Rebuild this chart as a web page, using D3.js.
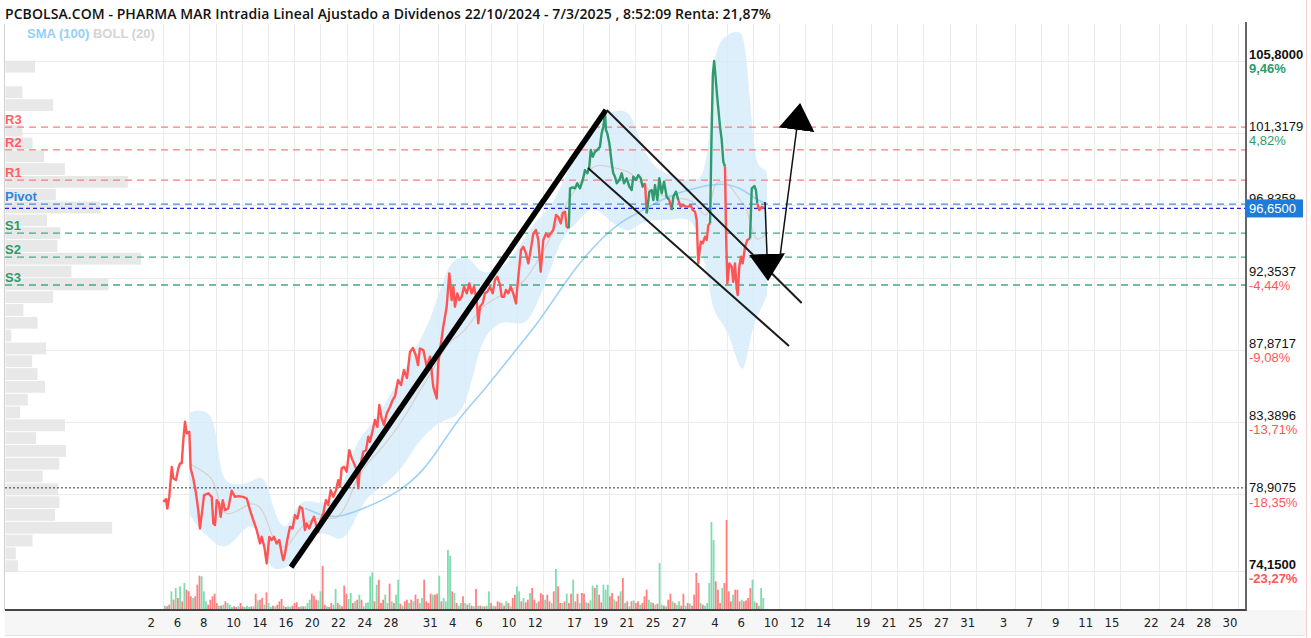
<!DOCTYPE html>
<html>
<head>
<meta charset="utf-8">
<script src="https://cdn.jsdelivr.net/npm/d3@7"></script>
<style>
  html, body { margin: 0; padding: 0; background: #fff; }
  svg { display: block; }
</style>
</head>
<body>
<div id="chart"></div>
<script>
// ---- datos ----
const titleText = "PCBOLSA.COM - PHARMA MAR Intradia Lineal Ajustado a Dividenos 22/10/2024 - 7/3/2025 , 8:52:09 Renta: 21,87%";

// eje x: sesiones bursatiles (indice de sesion desde el 2 de enero) y su etiqueta
const xTickIdx = [0, 2, 4, 6, 8, 10, 12, 14, 16, 18, 21, 23, 25, 27, 29, 32, 34, 36, 38, 40,
  43, 45, 47, 49, 51, 54, 56, 58, 60, 62, 65, 67, 69, 71, 73, 76, 78, 80, 82];
const xTickLabels = ["2", "6", "8", "10", "14", "16", "20", "22", "24", "28", "31", "4", "6", "10", "12", "17", "19", "21", "25", "27",
  "4", "6", "10", "12", "14", "19", "21", "25", "27", "31", "3", "7", "9", "11", "15", "22", "24", "28", "30"];

// eje y (precio)
const yTicks = [105.8, 101.3179, 96.8358, 92.3537, 87.8717, 83.3896, 78.9075, 74.15];
const yTickPct = ["9,46%", "4,82%", "", "-4,44%", "-9,08%", "-13,71%", "-18,35%", "-23,27%"];

// puntos pivote
const pivotNames = ["R3", "R2", "R1", "Pivot", "S1", "S2", "S3"];
const pivotValues = [101.70, 100.28, 98.41, 96.92, 95.12, 93.63, 91.90];
const lastPrice = 96.65;
const startPrice = 79.31;

// cotizacion intradia: [sesion, precio]
const pricePts = [
  [1.01,78.44],[1.22,78.61],[1.32,78.03],[1.47,78.75],[1.66,80.61],[1.78,79.90],[1.98,79.79],[2.16,80.52],[2.29,80.83],[2.42,80.83],
  [2.54,82.27],[2.67,83.41],[2.80,82.69],[3.00,82.79],[3.10,80.52],[3.30,79.90],[3.51,78.97],[3.68,77.93],[3.81,76.79],[4.02,78.14],
  [4.12,78.86],[4.45,78.97],[4.71,78.75],[4.83,77.10],[4.96,77.00],[5.09,78.55],[5.26,78.34],[5.39,77.51],[5.55,78.55],[5.72,77.93],
  [5.97,78.03],[6.23,79.13],[6.48,78.75],[6.74,78.80],[7.12,78.75],[7.38,78.65],[7.63,77.93],[7.88,77.31],[8.14,76.69],[8.39,75.86],
  [8.52,76.27],[8.72,75.65],[8.90,74.62],[9.10,76.27],[9.28,76.07],[9.46,76.27],[9.66,75.86],[9.86,76.07],[10.05,75.24],[10.17,74.82],
  [10.30,75.24],[10.47,76.07],[10.68,76.89],[10.88,76.79],[11.06,77.62],[11.24,77.41],[11.44,78.14],[11.62,78.03],[11.82,76.69],[11.95,77.10],
  [12.15,76.79],[12.33,77.20],[12.51,77.51],[12.66,77.06],[12.84,76.58],[13.02,77.31],[13.22,77.72],[13.42,78.55],[13.60,78.24],[13.78,79.17],
  [13.98,78.75],[14.19,79.17],[14.36,79.79],[14.49,79.38],[14.62,80.52],[14.80,80.62],[15.00,80.31],[15.20,81.65],[15.39,81.14],[15.56,80.83],
  [15.77,80.41],[15.89,79.28],[16.02,80.62],[16.27,81.55],[16.48,81.65],[16.65,82.48],[16.78,82.17],[16.99,82.89],[17.16,83.52],[17.34,83.10],
  [17.49,84.45],[17.67,83.62],[17.85,83.21],[18.06,83.93],[18.31,84.34],[18.51,84.76],[18.69,85.00],[18.92,86.00],[19.15,85.69],[19.37,86.62],
  [19.60,86.12],[19.83,87.74],[20.06,87.99],[20.29,87.49],[20.44,86.93],[20.59,87.96],[20.85,87.86],[21.11,86.82],[21.36,87.45],[21.61,85.58],
  [21.87,84.86],[21.99,87.03],[22.12,87.86],[22.37,89.31],[22.63,90.55],[22.83,92.62],[23.01,90.96],[23.14,91.79],[23.26,90.55],[23.44,91.38],
  [23.59,90.96],[23.78,91.17],[23.95,91.79],[24.16,91.38],[24.36,92.00],[24.54,91.38],[24.71,91.79],[24.92,90.96],[25.04,89.52],[25.17,90.55],
  [25.38,90.76],[25.55,91.38],[25.73,91.48],[25.93,91.79],[26.14,91.38],[26.32,92.21],[26.49,92.41],[26.70,91.90],[26.83,91.17],[27.00,91.17],
  [27.15,91.59],[27.33,91.38],[27.51,91.79],[27.71,91.38],[27.92,90.76],[28.02,91.79],[28.17,93.03],[28.30,94.07],[28.47,94.27],[28.68,93.86],
  [28.86,93.24],[29.04,94.07],[29.24,95.10],[29.44,95.31],[29.62,94.69],[29.80,92.72],[30.00,94.69],[30.21,95.10],[30.38,94.89],[30.56,95.10],
  [30.76,95.31],[30.97,96.24],[31.14,96.13],[31.33,95.72],[31.48,96.35],[31.66,96.45],[31.78,95.52],[31.94,95.42],[32.04,97.90],[32.24,97.96],
  [32.42,97.90],[32.59,98.21],[32.80,97.90],[33.01,98.41],[33.18,99.03],[33.36,98.83],[33.51,99.24],[33.62,100.28],[33.77,99.86],[33.94,100.17],
  [34.12,100.28],[34.32,100.48],[34.45,101.31],[34.58,101.72],[34.71,102.55],[34.78,101.52],[34.88,101.31],[35.04,100.69],[35.22,99.45],[35.34,98.83],
  [35.47,98.62],[35.60,98.21],[35.80,98.41],[35.98,98.83],[36.16,98.21],[36.36,98.52],[36.56,98.00],[36.74,97.79],[36.86,98.62],[37.07,98.41],
  [37.25,98.72],[37.43,98.52],[37.58,98.00],[37.76,98.21],[37.89,96.35],[38.09,97.69],[38.27,97.79],[38.39,97.17],[38.52,98.10],[38.70,97.17],
  [38.85,98.52],[39.03,97.59],[39.21,98.31],[39.41,97.38],[39.61,97.17],[39.79,96.55],[39.92,97.38],[40.12,97.69],[40.30,97.17],[40.48,96.76],
  [40.68,96.86],[40.88,96.76],[41.06,96.76],[41.24,96.86],[41.40,96.55],[41.57,96.45],[41.70,95.93],[41.82,93.24],[42.01,94.59],[42.16,94.49],
  [42.33,94.89],[42.46,94.69],[42.59,95.62],[42.72,95.72],[42.82,100.48],[42.93,104.93],[43.03,105.80],[43.13,104.93],[43.25,103.69],[43.36,102.76],
  [43.48,101.72],[43.61,100.89],[43.73,99.55],[43.86,99.24],[43.94,95.10],[44.04,92.00],[44.19,93.24],[44.37,93.03],[44.49,92.09],[44.62,93.24],
  [44.75,91.68],[44.83,91.28],[44.95,93.03],[45.08,93.65],[45.21,93.24],[45.39,94.27],[45.56,94.69],[45.77,94.79],[45.90,97.90],[46.10,98.04],
  [46.22,97.79],[46.32,96.97],[46.48,96.55],[46.67,96.76],[46.84,96.65]
];

// Bandas de Bollinger (20)
const bandTime = [3.05, 3.81, 4.73, 5.11, 5.42, 5.87, 6.64, 7.63, 8.24, 8.77, 9.15, 9.69, 10.45, 11.21, 11.98, 12.74, 13.50, 14.26, 15.03, 15.79,
  16.55, 17.32, 18.31, 19.07, 19.83, 20.59, 21.36, 22.12, 22.88, 23.65, 24.41, 25.17, 25.93, 26.93, 28.22, 28.99, 29.98, 30.74, 31.50, 32.57,
  33.33, 34.10, 35.32, 36.61, 37.15, 37.76, 38.37, 39.89, 40.96, 41.72, 42.18, 42.72, 42.94, 43.48, 44.24, 45.00, 45.38, 45.77, 46.15, 46.76, 47.06];
const bandUpper = [84.01, 84.14, 83.95, 82.27, 80.23, 79.61, 79.48, 79.61, 79.98, 79.92, 78.86, 77.31, 76.56, 78.36, 78.55, 78.36, 78.42, 78.55, 80.23, 82.27,
  82.89, 83.70, 85.07, 86.12, 87.24, 88.48, 89.72, 91.59, 93.32, 93.63, 93.63, 92.64, 92.70, 92.95, 94.25, 95.50, 96.24, 96.99, 98.23, 100.28,
  101.33, 102.14, 102.76, 102.76, 101.33, 100.15, 99.22, 98.60, 98.41, 98.41, 98.60, 100.90, 105.86, 107.10, 107.54, 107.72, 107.10, 103.38, 99.34, 99.16, 98.91];
const bandLower = [77.62, 76.69, 76.07, 75.76, 75.70, 75.63, 76.19, 77.19, 76.56, 75.45, 74.39, 74.20, 74.39, 74.83, 75.94, 76.50, 76.50, 76.07, 76.25, 77.62,
  78.73, 79.17, 79.79, 80.41, 81.34, 82.27, 82.89, 83.39, 83.64, 83.83, 85.38, 88.17, 89.10, 89.72, 89.41, 89.72, 91.59, 93.32, 95.00, 95.74,
  96.55, 96.74, 95.62, 95.12, 95.62, 95.81, 95.93, 95.93, 96.12, 95.43, 93.76, 91.59, 90.34, 89.72, 88.79, 86.50, 86.74, 88.48, 89.72, 90.65, 91.27];

// SMA (100)
const smaTime = [11.82, 12.97, 14.26, 16.02, 17.77, 19.07, 20.37, 21.74, 23.42, 25.17, 26.70, 28.22, 29.75, 31.27, 32.80, 34.32, 35.85, 37.38,
  38.90, 40.43, 41.95, 43.48, 45.00, 46.30, 46.91];
const smaValue = [78.05, 77.62, 77.43, 77.93, 78.55, 79.17, 79.98, 81.34, 83.52, 85.07, 86.62, 88.17, 89.72, 91.59, 93.32, 94.69, 95.81, 96.43,
  97.17, 97.67, 97.98, 98.23, 97.98, 97.17, 96.99];

// volumen intradia (miles) y sentido de la barra (1 sube, 0 baja)
const volumeStart = 1.14, volumeEnd = 46.78;
const volume = [
  10, 8, 13, 53, 28, 63, 33, 68, 23, 78,   58, 53, 38, 33, 38, 73, 100, 98, 53, 23,
  13, 28, 38, 46, 18, 10, 10, 13, 23, 18,   13, 6, 8, 6, 8, 18, 8, 6, 10, 6,
  8, 8, 46, 26, 28, 33, 13, 50, 18, 6,     10, 8, 13, 23, 30, 10, 6, 8, 6, 10,
  18, 20, 6, 8, 8, 8, 18, 28, 46, 40,     28, 26, 53, 129, 13, 8, 6, 18, 13, 60,
  18, 13, 8, 70, 46, 30, 48, 18, 23, 28,   43, 28, 8, 18, 20, 98, 110, 23, 73, 88,
  18, 28, 43, 18, 76, 23, 18, 43, 88, 16,  10, 23, 28, 18, 28, 23, 43, 30, 18, 33,
  88, 23, 18, 46, 43, 43, 46, 100, 23, 33, 23, 177, 160, 53, 48, 18, 10,
  18, 38, 18, 13, 18, 10, 8, 60, 10, 10,   8, 8, 10, 53, 18, 10, 8, 23, 20, 18,
  10, 23, 18, 8, 33, 43, 68, 53, 23, 33,   20, 28, 48, 63, 28, 18, 23, 48, 43, 28,
  43, 23, 18, 53, 120, 68, 18, 18, 23, 46, 18, 46, 88, 23, 46, 18, 48, 46, 20, 18,
  26, 70, 63, 73, 43, 20, 73, 58, 73, 38,  48, 28, 23, 40, 53, 93, 18, 23, 8, 23,
  26, 18, 23, 13, 18, 38, 58, 28, 20, 18,  13, 16, 138, 13, 10, 8, 28, 46, 23, 18,
  13, 23, 10, 46, 10, 18, 16, 10, 43, 108, 78, 18, 13, 10, 18, 78, 261, 207, 83, 58,
  18, 63, 78, 267, 53, 23, 43, 58, 58, 23, 28, 23, 26, 33, 63, 88, 23, 18, 10, 63, 33
];
const volumeUp = [
  1, 0, 0, 1, 0, 1, 0, 1, 0, 1,   0, 0, 0, 1, 0, 0, 0, 1, 1, 1,
  0, 0, 0, 0, 0, 1, 0, 1, 0, 1,   1, 1, 0, 0, 1, 0, 0, 1, 1, 1,
  0, 1, 0, 1, 0, 0, 1, 0, 1, 1,   0, 1, 0, 0, 0, 1, 0, 1, 1, 0,
  0, 0, 0, 1, 0, 1, 1, 1, 0, 0,   0, 1, 1, 0, 0, 1, 0, 0, 1, 1,
  0, 1, 0, 0, 0, 1, 1, 0, 1, 0,   1, 0, 1, 1, 1, 1, 1, 0, 1, 0,
  0, 0, 1, 1, 0, 1, 0, 1, 1, 0,   1, 0, 0, 1, 0, 1, 0, 0, 1, 1,
  0, 0, 0, 0, 1, 0, 0, 1, 0, 1, 1, 1, 1, 0, 1, 0, 1,
  1, 0, 1, 0, 1, 0, 1, 0, 1, 0,   1, 0, 1, 1, 0, 1, 0, 0, 0, 1,
  0, 1, 0, 1, 0, 0, 1, 1, 0, 1,   0, 0, 1, 0, 0, 1, 0, 0, 0, 1,
  0, 0, 1, 0, 1, 0, 0, 1, 0, 1,   0, 0, 1, 0, 0, 1, 0, 0, 1, 0,
  1, 1, 0, 1, 0, 0, 1, 1, 1, 0,   0, 1, 0, 0, 1, 0, 1, 0, 1, 0,
  1, 0, 0, 1, 0, 0, 0, 1, 1, 0,   1, 0, 1, 1, 0, 1, 0, 0, 1, 0,
  1, 1, 0, 0, 1, 0, 1, 0, 0, 0,   0, 1, 0, 1, 1, 1, 1, 1, 0, 0,
  0, 1, 0, 0, 0, 0, 1, 0, 0, 0,   1, 0, 0, 0, 0, 1, 1, 0, 1, 1, 1
];

// perfil de volumen por precio (miles), desde el tramo mas alto
const profileTop = 105.82, profileStep = 0.795;
const profileVol = [295, 0, 168, 477, 0, 168, 270, 386, 594, 1223, 503, 950, 415, 550, 520, 1357, 659, 1030, 477, 179,
  320, 59, 405, 266, 320, 394, 223, 146, 594, 306, 605, 539, 372, 525, 539, 495, 1066, 270, 103, 125];

// lineas dibujadas a mano: [sesion, precio]
const trendLine = [[10.76, 74.39], [34.78, 102.76]];
const channelTop = [[34.84, 102.76], [49.71, 90.78]];
const channelBottom = [[33.41, 99.16], [48.74, 88.11]];
const arrowDown = [[46.91, 97.05], [47.14, 92.21]];
const arrowUp = [[48.05, 93.63], [49.58, 103.13]];

// ---- dibujo ----
const width = 1311, height = 638;
const plot = { left: 5, right: 1246, top: 24, bottom: 610 };

const red = "#ff5454", green = "#2f9a6c";

const x = d3.scaleLinear().domain([0, 82]).range([150, 150 + 82 * 13.11]);
const y = d3.scaleLinear().domain([74.15, 105.8]).range([571, 61]);
const yVol = d3.scaleLinear().domain([0, 267]).range([609, 520]);
const wProfile = d3.scaleLinear().domain([0, 1357]).range([0, 135.7]);

const esLocale = d3.formatLocale({ decimal: ",", thousands: ".", grouping: [3], currency: ["", "€"] });
const fmt4 = esLocale.format(".4f");

const svg = d3.select("#chart").append("svg")
  .attr("width", width)
  .attr("height", height)
  .style("font-family", "'Liberation Sans', Arial, sans-serif");

const defs = svg.append("defs");
defs.append("clipPath").attr("id", "plotClip")
  .append("rect")
  .attr("x", plot.left).attr("y", plot.top)
  .attr("width", plot.right - plot.left).attr("height", plot.bottom - plot.top);

defs.append("marker")
  .attr("id", "head")
  .attr("markerUnits", "userSpaceOnUse")
  .attr("viewBox", "0 -18 27 36")
  .attr("markerWidth", 27).attr("markerHeight", 36)
  .attr("refX", 26).attr("refY", 0)
  .attr("orient", "auto")
  .append("path").attr("d", "M0,-18L27,0L0,18Z").attr("fill", "#000");

// titulo
svg.append("text")
  .attr("x", 5).attr("y", 19)
  .style("font-family", "'Open Sans', sans-serif")
  .style("font-weight", 600)
  .style("font-size", "14px")
  .style("letter-spacing", "0.07px")
  .attr("fill", "#111")
  .text(titleText);

// franja de fechas
svg.append("rect")
  .attr("x", plot.left).attr("y", plot.bottom)
  .attr("width", plot.right - plot.left + 60).attr("height", 25)
  .attr("fill", "#f6f6f6");
svg.append("line")
  .attr("x1", plot.left).attr("x2", width - 6)
  .attr("y1", plot.bottom + 25.5).attr("y2", plot.bottom + 25.5)
  .attr("stroke", "#e4e4e4");

const g = svg.append("g").attr("clip-path", "url(#plotClip)");

// rejilla
g.append("g").selectAll("line")
  .data(xTickIdx)
  .join("line")
  .attr("x1", d => Math.round(x(d + 1)) + 0.5).attr("x2", d => Math.round(x(d + 1)) + 0.5)
  .attr("y1", plot.top).attr("y2", plot.bottom)
  .attr("stroke", "#ececec");
g.append("g").selectAll("line")
  .data(yTicks)
  .join("line")
  .attr("x1", plot.left).attr("x2", plot.right)
  .attr("y1", d => Math.round(y(d)) + 0.5).attr("y2", d => Math.round(y(d)) + 0.5)
  .attr("stroke", "#ebebeb");

// perfil de volumen
g.append("g").selectAll("rect")
  .data(profileVol)
  .join("rect")
  .attr("x", plot.left + 0.5)
  .attr("y", (d, i) => y(profileTop - i * profileStep))
  .attr("width", d => wProfile(d))
  .attr("height", (d, i) => y(profileTop - (i + 1) * profileStep) - y(profileTop - i * profileStep) - 1)
  .attr("fill", "#e6e6e6")
  .attr("opacity", 0.9);

// volumen
const nVol = volume.length;
const volTime = d3.scaleLinear().domain([0, nVol - 1]).range([volumeStart, volumeEnd]);
g.append("g").selectAll("rect")
  .data(volume)
  .join("rect")
  .attr("x", (d, i) => x(volTime(i)) - 0.9)
  .attr("y", d => yVol(d))
  .attr("width", 1.8)
  .attr("height", d => yVol(0) - yVol(d))
  .attr("fill", (d, i) => volumeUp[i] ? "#7fdcae" : "#ff8080");

// bandas de Bollinger
const band = bandTime.map((t, i) => ({ t, up: bandUpper[i], lo: bandLower[i] }));
g.append("path")
  .datum(band)
  .attr("d", d3.area().curve(d3.curveBasis)
    .x(d => x(d.t)).y0(d => y(d.lo)).y1(d => y(d.up)))
  .attr("fill", "#d6ebfb")
  .attr("opacity", 0.8);
g.append("path")
  .datum(band)
  .attr("d", d3.line().curve(d3.curveBasis)
    .x(d => x(d.t)).y(d => y((d.up + d.lo) / 2)))
  .attr("fill", "none")
  .attr("stroke", "#d9cfcb")
  .attr("stroke-width", 1.2);

// SMA 100
g.append("path")
  .datum(smaTime.map((t, i) => [t, smaValue[i]]))
  .attr("d", d3.line().curve(d3.curveBasis).x(d => x(d[0])).y(d => y(d[1])))
  .attr("fill", "none")
  .attr("stroke", "#9dd2f4")
  .attr("stroke-width", 1.6);

// niveles pivote
const pivotColor = i => i < 3 ? "#ff7a7a" : (i === 3 ? "#3c8ee6" : "#45a883");
const pivotText = i => i < 3 ? "#ff5f5f" : (i === 3 ? "#2f84e0" : "#2f9a6c");
g.append("g").selectAll("line")
  .data(pivotValues)
  .join("line")
  .attr("x1", plot.left).attr("x2", plot.right)
  .attr("y1", d => y(d)).attr("y2", d => y(d))
  .attr("stroke", (d, i) => pivotColor(i))
  .attr("stroke-width", 1.3)
  .attr("stroke-dasharray", "7,5");

// precio actual y precio inicial
g.append("line")
  .attr("x1", plot.left).attr("x2", plot.right)
  .attr("y1", y(lastPrice)).attr("y2", y(lastPrice))
  .attr("stroke", "#2323d8").attr("stroke-width", 1.3)
  .attr("stroke-dasharray", "4,3");
g.append("line")
  .attr("x1", plot.left).attr("x2", plot.right)
  .attr("y1", y(startPrice)).attr("y2", y(startPrice))
  .attr("stroke", "#333").attr("stroke-width", 1)
  .attr("stroke-dasharray", "2,2");

svg.append("g").selectAll("text")
  .data(pivotValues)
  .join("text")
  .attr("x", 5)
  .attr("y", d => y(d) - 3)
  .attr("fill", (d, i) => pivotText(i))
  .style("font-size", "13px")
  .style("font-weight", "bold")
  .text((d, i) => pivotNames[i]);

// linea de precio, verde por encima del pivote y roja por debajo
const pivotLevel = pivotValues[3];
const runs = [];
let cur = null;
pricePts.forEach((p, i) => {
  if (i === 0) return;
  const up = p[1] >= pivotLevel;
  if (!cur || cur.up !== up) {
    cur = { up, pts: [pricePts[i - 1]] };
    runs.push(cur);
  }
  cur.pts.push(p);
});
const priceLine = d3.line().x(d => x(d[0])).y(d => y(d[1]));
g.append("g").selectAll("path")
  .data(runs)
  .join("path")
  .attr("d", d => priceLine(d.pts))
  .attr("fill", "none")
  .attr("stroke", d => d.up ? green : red)
  .attr("stroke-width", 2.4)
  .attr("stroke-linejoin", "round");

// lineas de tendencia
const segLine = d3.line().x(d => x(d[0])).y(d => y(d[1]));
g.append("path").attr("d", segLine(trendLine))
  .attr("stroke", "#000").attr("stroke-width", 5.5).attr("fill", "none");
g.append("path").attr("d", segLine(channelTop))
  .attr("stroke", "#1c1c1c").attr("stroke-width", 2).attr("fill", "none");
g.append("path").attr("d", segLine(channelBottom))
  .attr("stroke", "#1c1c1c").attr("stroke-width", 2).attr("fill", "none");
g.append("path").attr("d", segLine(arrowDown))
  .attr("stroke", "#111").attr("stroke-width", 1.5).attr("fill", "none")
  .attr("marker-end", "url(#head)");
g.append("path").attr("d", segLine(arrowUp))
  .attr("stroke", "#111").attr("stroke-width", 1.5).attr("fill", "none")
  .attr("marker-end", "url(#head)");

// leyenda
const legend = svg.append("text").attr("x", 27).attr("y", 38)
  .style("font-size", "13px").style("font-weight", "bold");
legend.append("tspan").attr("fill", "#93d0f5").text("SMA (100) ");
legend.append("tspan").attr("fill", "#d4d4d4").text("BOLL (20)");

// bordes
svg.append("line")
  .attr("x1", plot.left - 0.5).attr("x2", plot.left - 0.5)
  .attr("y1", plot.top).attr("y2", plot.bottom)
  .attr("stroke", "#d0d0d0");
svg.append("line")
  .attr("x1", plot.right).attr("x2", plot.right)
  .attr("y1", plot.top - 2).attr("y2", plot.bottom + 1)
  .attr("stroke", "#333").attr("stroke-width", 1.5);
svg.append("line")
  .attr("x1", plot.left).attr("x2", plot.right)
  .attr("y1", plot.bottom).attr("y2", plot.bottom)
  .attr("stroke", "#444").attr("stroke-width", 2);
svg.append("line")
  .attr("x1", 1306.5).attr("x2", 1306.5)
  .attr("y1", 0).attr("y2", height)
  .attr("stroke", "#f6d0d0");

// eje x
const xAxis = svg.append("g")
  .attr("transform", `translate(0,${plot.bottom})`)
  .call(d3.axisBottom(x).tickValues(xTickIdx).tickSize(0).tickFormat((d, i) => xTickLabels[i]));
xAxis.select(".domain").remove();
xAxis.selectAll("text")
  .attr("text-anchor", "start")
  .attr("dx", -3)
  .attr("y", 8)
  .attr("fill", "#222")
  .style("font-family", "'Liberation Sans Narrow', 'DejaVu Sans Condensed', 'Liberation Sans', sans-serif")
  .style("font-size", "13px");

// eje y derecho
const yAxis = svg.append("g")
  .attr("transform", `translate(${plot.right + 3},0)`)
  .call(d3.axisRight(y).tickValues(yTicks).tickSize(0).tickPadding(0).tickFormat(d => fmt4(d)));
yAxis.select(".domain").remove();
yAxis.selectAll("text")
  .attr("dy", "-0.2em")
  .attr("fill", "#111")
  .style("font-size", "13px")
  .style("font-weight", (d, i) => (i === 0 || i === yTicks.length - 1) ? "bold" : "normal");
yAxis.selectAll(".tick").append("text")
  .attr("x", 0).attr("dy", "0.9em")
  .attr("fill", d => d >= lastPrice ? "#2f9a6c" : "#ff5656")
  .style("font-size", "13px")
  .style("font-weight", (d, i) => (i === 0 || i === yTicks.length - 1) ? "bold" : "normal")
  .text((d, i) => yTickPct[i]);

// caja del precio actual (tapa en parte la etiqueta 96,8358, como el original)
const lastG = svg.append("g").attr("transform", `translate(${plot.right - 1},${y(lastPrice)})`);
lastG.append("rect")
  .attr("x", 0).attr("y", -9)
  .attr("width", 58).attr("height", 18)
  .attr("fill", "#1f7bd8");
lastG.append("text")
  .attr("x", 4).attr("y", 0).attr("dy", "0.35em")
  .attr("fill", "#fff")
  .style("font-size", "13px")
  .text(fmt4(lastPrice));
</script>
</body>
</html>
